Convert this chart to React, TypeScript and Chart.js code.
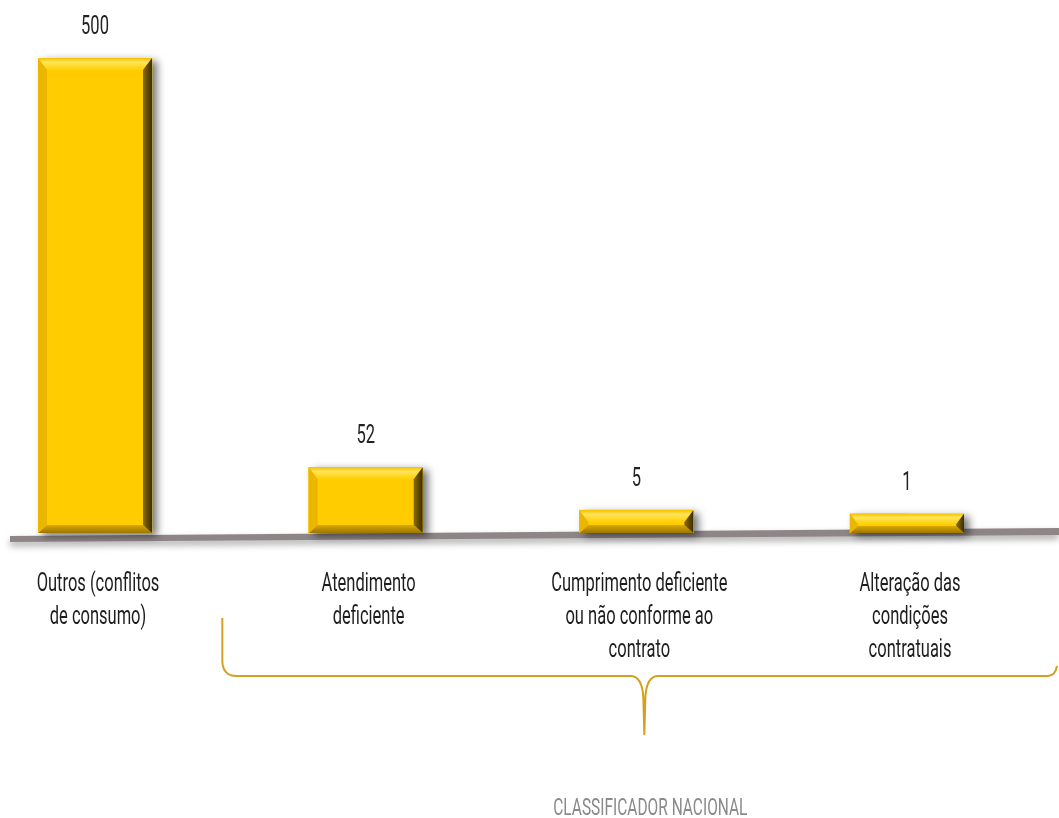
import React, { useEffect, useRef } from "react";
import { Chart, registerables } from "chart.js";

Chart.register(...registerables);

// ---- data ----
const categories: string[][] = [
  ["Outros (conflitos", "de consumo)"],
  ["Atendimento", "deficiente"],
  ["Cumprimento deficiente", "ou não conforme ao", "contrato"],
  ["Alteração das", "condições", "contratuais"],
];
const values: number[] = [500, 52, 5, 1];
const valueLabels: string[] = ["500", "52", "5", "1"];
const groupTitle = "CLASSIFICADOR NACIONAL";

// ---- style ----
const FONT = "Roboto, 'DejaVu Sans', sans-serif";
const SX = 0.66; // horizontal compression to imitate a condensed face
const BAR_BASE = -20; // visual plinth of the bevelled bars
const GOLD = "#ffcc00";

function scaledText(ctx: CanvasRenderingContext2D, text: string, x: number, y: number, sx: number) {
  ctx.save();
  ctx.translate(x, y);
  ctx.scale(sx, 1);
  ctx.fillText(text, 0, 0);
  ctx.restore();
}

function poly(ctx: CanvasRenderingContext2D, pts: number[][], fill: any) {
  ctx.beginPath();
  ctx.moveTo(pts[0][0], pts[0][1]);
  for (let i = 1; i < pts.length; i++) ctx.lineTo(pts[i][0], pts[i][1]);
  ctx.closePath();
  ctx.fillStyle = fill;
  ctx.fill();
}

const deco = {
  id: "deco",
  beforeDatasetsDraw(chart: any) {
    const ctx: CanvasRenderingContext2D = chart.ctx;
    const yS = chart.scales.y;
    const W = chart.width;
    const basePx = yS.getPixelForValue(BAR_BASE);
    // floor slab (slanted)
    const x0 = 10, x1 = W;
    const yTop = (x: number) => basePx + 3 - (8 * (x - x0)) / (x1 - x0);
    ctx.save();
    ctx.shadowColor = "rgba(0,0,0,0.35)";
    ctx.shadowBlur = 7;
    ctx.shadowOffsetY = 4;
    poly(ctx, [[x0, yTop(x0)], [x1, yTop(x1)], [x1, yTop(x1) + 7], [x0, yTop(x0) + 6]], "#8e8587");
    ctx.restore();
    // bar shadows
    const meta = chart.getDatasetMeta(0);
    ctx.save();
    ctx.shadowColor = "rgba(0,0,0,0.55)";
    ctx.shadowBlur = 8;
    ctx.shadowOffsetX = 5;
    ctx.shadowOffsetY = 3;
    meta.data.forEach((el: any) => {
      const { x, y, base, width } = el.getProps(["x", "y", "base", "width"], true);
      ctx.fillStyle = GOLD;
      ctx.fillRect(x - width / 2, y, width, base - y);
    });
    ctx.restore();
  },
  afterDatasetsDraw(chart: any) {
    const ctx: CanvasRenderingContext2D = chart.ctx;
    const meta = chart.getDatasetMeta(0);
    meta.data.forEach((el: any, i: number) => {
      const { x, y, base, width } = el.getProps(["x", "y", "base", "width"], true);
      const l = x - width / 2, r = x + width / 2, t = y, bo = base;
      const h = bo - t;
      const f = Math.min(1, h / 22);
      const bt = 12 * f, bb = 8 * f, bs = 9 * Math.max(f, 0.8);
      // top bevel
      const gt = ctx.createLinearGradient(0, t, 0, t + bt);
      gt.addColorStop(0, "#f2c200");
      gt.addColorStop(0.35, "#ffe45a");
      gt.addColorStop(1, "#ffd000");
      poly(ctx, [[l, t], [r, t], [r - bs, t + bt], [l + bs, t + bt]], gt);
      // bottom bevel
      const gb = ctx.createLinearGradient(0, bo - bb, 0, bo);
      gb.addColorStop(0, "#d9a900");
      gb.addColorStop(1, "#9c7600");
      poly(ctx, [[l, bo], [r, bo], [r - bs, bo - bb], [l + bs, bo - bb]], gb);
      // left bevel
      poly(ctx, [[l, t], [l + bs, t + bt], [l + bs, bo - bb], [l, bo]], "#eab600");
      // right bevel
      const gr = ctx.createLinearGradient(r - bs, 0, r, 0);
      gr.addColorStop(0, "#8c6c00");
      gr.addColorStop(1, "#3a2d00");
      poly(ctx, [[r, t], [r, bo], [r - bs, bo - bb], [r - bs, t + bt]], gr);
      // value label
      ctx.save();
      ctx.fillStyle = "#222222";
      ctx.font = `25px ${FONT}`;
      ctx.textAlign = "center";
      ctx.textBaseline = "alphabetic";
      scaledText(ctx, valueLabels[i], x, t - 24, SX);
      ctx.restore();
    });
  },
  afterDraw(chart: any) {
    const ctx: CanvasRenderingContext2D = chart.ctx;
    const xS = chart.scales.x;
    const W = chart.width;
    // category labels
    ctx.save();
    ctx.fillStyle = "#1e1e1e";
    ctx.font = `25px ${FONT}`;
    ctx.textAlign = "center";
    ctx.textBaseline = "alphabetic";
    categories.forEach((lines, i) => {
      const cx = xS.getPixelForValue(i) + 3;
      lines.forEach((ln, k) => scaledText(ctx, ln, cx, 591 + k * 33, SX));
    });
    ctx.restore();
    // brace grouping the national classifier categories
    const p0 = xS.getPixelForValue(0), p1 = xS.getPixelForValue(1), p3 = xS.getPixelForValue(3);
    const left = (p0 + p1) / 2 - 8;
    const tip = (p1 + p3) / 2 + 8;
    const right = W - 3;
    const yTop = 618, yH = 676, yTip = 735;
    ctx.save();
    ctx.strokeStyle = "#d4a021";
    ctx.lineWidth = 2;
    ctx.beginPath();
    ctx.moveTo(left, yTop);
    ctx.lineTo(left, yH - 14);
    ctx.quadraticCurveTo(left + 1, yH, left + 14, yH);
    ctx.lineTo(tip - 14, yH);
    ctx.quadraticCurveTo(tip - 2, yH, tip - 1, yH + 22);
    ctx.lineTo(tip, yTip);
    ctx.moveTo(tip, yTip);
    ctx.lineTo(tip + 1, yH + 22);
    ctx.quadraticCurveTo(tip + 2, yH, tip + 14, yH);
    ctx.lineTo(right - 8, yH);
    ctx.quadraticCurveTo(right - 1, yH, right + 1, yH - 10);
    ctx.stroke();
    ctx.restore();
    // group title
    ctx.save();
    ctx.fillStyle = "#8a8a8a";
    ctx.font = `24px ${FONT}`;
    ctx.textAlign = "center";
    ctx.textBaseline = "alphabetic";
    scaledText(ctx, groupTitle, tip + 6, 815, 0.645);
    ctx.restore();
  },
};

export default function App() {
  const ref = useRef<HTMLCanvasElement | null>(null);
  useEffect(() => {
    if (!ref.current) return;
    const chart = new Chart(ref.current, {
      type: "bar",
      data: {
        labels: categories as any,
        datasets: [
          {
            data: values,
            base: BAR_BASE,
            backgroundColor: GOLD,
            borderWidth: 0,
            barThickness: 114,
          } as any,
        ],
      },
      options: {
        animation: false,
        responsive: false,
        devicePixelRatio: 1,
        layout: { padding: { left: 95, right: 152, top: 58, bottom: 285 } },
        plugins: { legend: { display: false }, tooltip: { enabled: false } },
        scales: {
          x: { type: "category", display: false, offset: false },
          y: { display: false, min: BAR_BASE, max: 500 },
        },
      } as any,
      plugins: [deco],
    });
    return () => chart.destroy();
  }, []);
  return (
    <div style={{ position: "fixed", left: 0, top: 0, width: 1059, height: 818, background: "#ffffff" }}>
      <canvas ref={ref} width={1059} height={818} style={{ display: "block", width: 1059, height: 818 }} />
    </div>
  );
}
